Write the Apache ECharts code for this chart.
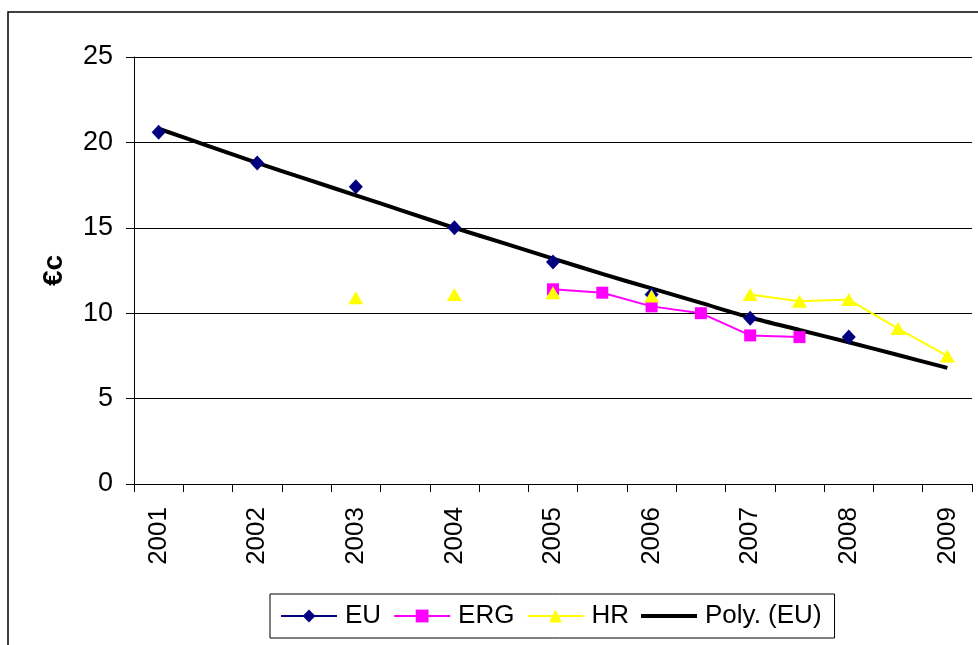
<!DOCTYPE html>
<html>
<head>
<meta charset="utf-8">
<script src="https://cdn.jsdelivr.net/npm/echarts@6/dist/echarts.min.js"></script>
<style>
html,body{margin:0;padding:0;background:#fff;}
#chart{width:978px;height:645px;}
</style>
</head>
<body>
<div id="chart"></div>
<script>
var categories = ['2001','2001.5','2002','2002.5','2003','2003.5','2004','2004.5','2005','2005.5','2006','2006.5','2007','2007.5','2008','2008.5','2009'];
var euValues   = [20.6, null, 18.8, null, 17.4, null, 15.0, null, 13.0, null, 11.1, null, 9.7, null, 8.6, null, null];
var ergValues  = [null, null, null, null, null, null, null, null, 11.4, 11.2, 10.4, 10.0, 8.7, 8.6, null, null, null];
var hrValues   = [null, null, null, null, 10.9, null, 11.1, null, 11.2, null, 11.0, null, 11.1, 10.7, 10.8, 9.1, 7.5];
var polyValues = [20.8, 19.8, 18.8, 17.85, 16.9, 15.95, 15.0, 14.1, 13.2, 12.3, 11.45, 10.6, 9.75, 9.02, 8.3, 7.55, 6.8];
var yTicks = {min: 0, max: 25, interval: 5};

var FONT = "'Liberation Sans', Arial, sans-serif";
var chart = echarts.init(document.getElementById('chart'), null, {renderer: 'canvas'});
chart.setOption({
  animation: false,
  backgroundColor: '#ffffff',
  textStyle: {fontFamily: FONT, color: '#000'},
  graphic: [{
    type: 'rect', silent: true, z: 100,
    shape: {x: 8, y: 12, width: 1000, height: 700},
    style: {fill: 'none', stroke: '#000', lineWidth: 1.5}
  }],
  grid: {left: 134, right: 6, top: 57, bottom: 161, containLabel: false},
  legend: {
    left: 270, top: 594,
    padding: [9, 13, 9, 10],
    borderColor: '#000', borderWidth: 1,
    itemGap: 12, itemWidth: 56, itemHeight: 16,
    symbolKeepAspect: true,
    textStyle: {fontFamily: FONT, fontSize: 26, color: '#000', padding: [0, 0, 0, 3]},
    data: ['EU', 'ERG', 'HR', {name: 'Poly. (EU)', icon: 'path://M0,0L56,0L56,4L0,4Z'}]
  },
  xAxis: {
    type: 'category',
    data: categories,
    boundaryGap: true,
    axisLine: {lineStyle: {color: '#000', width: 1}},
    axisTick: {show: true, interval: 0, length: 8, lineStyle: {color: '#000'}},
    axisLabel: {interval: 1, rotate: 90, margin: 23, fontSize: 26, color: '#000', fontFamily: FONT},
    splitLine: {show: false}
  },
  yAxis: {
    type: 'value',
    min: yTicks.min, max: yTicks.max, interval: yTicks.interval,
    name: '€c',
    nameLocation: 'middle',
    nameRotate: 90,
    nameGap: 66,
    nameTextStyle: {fontSize: 28, fontWeight: 'bold', color: '#000', fontFamily: FONT},
    axisLine: {show: true, lineStyle: {color: '#000', width: 1}},
    axisTick: {show: true, length: 8, lineStyle: {color: '#000'}},
    axisLabel: {margin: 21, fontSize: 27, color: '#000', fontFamily: FONT},
    splitLine: {show: true, lineStyle: {color: '#000', width: 1}}
  },
  series: [
    {
      name: 'EU', type: 'line', data: euValues,
      symbol: 'diamond', symbolSize: [14, 15],
      itemStyle: {color: '#000080'},
      lineStyle: {color: '#000080', width: 2},
      connectNulls: false
    },
    {
      name: 'ERG', type: 'line', data: ergValues,
      symbol: 'rect', symbolSize: 12,
      itemStyle: {color: '#FF00FF'},
      lineStyle: {color: '#FF00FF', width: 2},
      connectNulls: false
    },
    {
      name: 'HR', type: 'line', data: hrValues,
      symbol: 'triangle', symbolSize: [15, 13],
      itemStyle: {color: '#FFFF00'},
      lineStyle: {color: '#FFFF00', width: 2},
      connectNulls: false
    },
    {
      name: 'Poly. (EU)', type: 'line', data: polyValues,
      symbol: 'none', smooth: 0.3,
      itemStyle: {color: '#000'},
      lineStyle: {color: '#000', width: 4}
    }
  ]
});
</script>
</body>
</html>
